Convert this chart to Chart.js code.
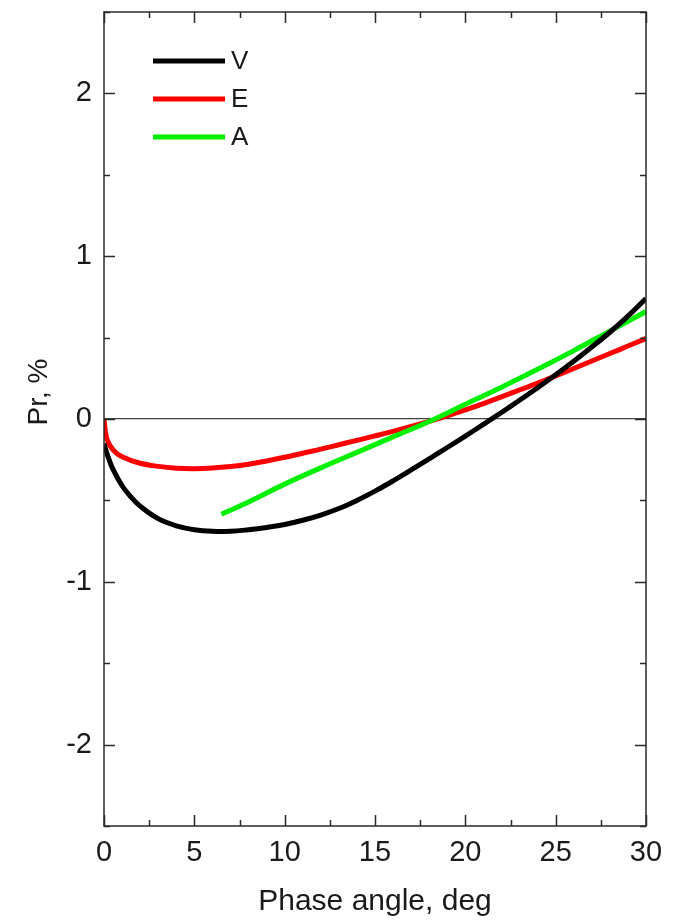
<!DOCTYPE html>
<html>
<head>
<meta charset="utf-8">
<script src="https://cdn.jsdelivr.net/npm/chart.js@4/dist/chart.umd.min.js"></script>
<style>
  html, body { margin: 0; padding: 0; background: #fff; }
  #wrap { width: 674px; height: 922px; }
</style>
</head>
<body>
<div id="wrap"><canvas id="c"></canvas></div>
<script>
// Phase-angle dependence of polarization Pr for three observing bands
const phaseV = [0, 0.1, 0.25, 0.5, 1, 1.5, 2, 3, 4, 5, 6, 7, 8, 9, 10, 11, 12, 13, 14, 15, 16, 17, 18, 19, 20, 21, 22, 23, 24, 25, 26, 27, 28, 29, 30];
const polV   = [-0.15, -0.19, -0.24, -0.31, -0.41, -0.48, -0.535, -0.612, -0.656, -0.68, -0.69, -0.69, -0.68, -0.666, -0.648, -0.622, -0.59, -0.55, -0.5, -0.443, -0.38, -0.313, -0.245, -0.175, -0.105, -0.033, 0.04, 0.115, 0.192, 0.272, 0.355, 0.442, 0.533, 0.632, 0.74];

const phaseE = [0, 0.15, 0.5, 1, 2, 3, 4, 5, 6, 7, 8, 9, 10, 11, 12, 13, 14, 15, 16, 17, 18, 19, 20, 21, 22, 23, 24, 25, 26, 27, 28, 29, 30];
const polE   = [0, -0.12, -0.19, -0.232, -0.272, -0.291, -0.302, -0.305, -0.301, -0.292, -0.278, -0.258, -0.235, -0.21, -0.185, -0.158, -0.131, -0.104, -0.076, -0.046, -0.015, 0.019, 0.056, 0.095, 0.136, 0.178, 0.221, 0.265, 0.31, 0.356, 0.402, 0.448, 0.495];

const phaseA = [6.5, 8, 10, 12, 14, 16, 18, 20, 22, 24, 26, 28, 30];
const polA   = [-0.585, -0.51, -0.40, -0.30, -0.205, -0.11, -0.015, 0.09, 0.195, 0.305, 0.42, 0.54, 0.66];

const seriesNames  = ['V', 'E', 'A'];
const seriesColors = ['#000000', '#ff0000', '#00f000'];

const xTickValues = [0, 5, 10, 15, 20, 25, 30];
const yTickValues = [-2, -1, 0, 1, 2];

const FONT = 'Liberation Sans, Arial, Helvetica, sans-serif';
const TEXT_COLOR = '#1a1a1a';

const toPoints = (xs, ys) => xs.map((x, i) => ({ x: x, y: ys[i] }));

// Frame round the plot area with inward ticks on all four sides
const framePlugin = {
  id: 'frame',
  afterDraw(chart) {
    const { ctx, chartArea: { left, right, top, bottom }, scales: { x, y } } = chart;
    ctx.save();
    ctx.strokeStyle = '#2a2a2a';
    ctx.lineWidth = 1.5;
    ctx.strokeRect(left, top, right - left, bottom - top);
    ctx.beginPath();
    for (let v = x.min; v <= x.max + 1e-9; v += 2.5) {
      const len = (Math.abs(v % 5) < 1e-9) ? 11 : 6;
      const px = Math.round(x.getPixelForValue(v)) + 0.5;
      ctx.moveTo(px, bottom); ctx.lineTo(px, bottom - len);
      ctx.moveTo(px, top);    ctx.lineTo(px, top + len);
    }
    for (let v = y.min; v <= y.max + 1e-9; v += 0.5) {
      const len = (Math.abs(v - Math.round(v)) < 1e-9) ? 11 : 6;
      const py = Math.round(y.getPixelForValue(v)) + 0.5;
      ctx.moveTo(left, py);  ctx.lineTo(left + len, py);
      ctx.moveTo(right, py); ctx.lineTo(right - len, py);
    }
    ctx.stroke();
    ctx.restore();
  }
};

// Legend in the upper-left corner of the plot
const legendPlugin = {
  id: 'cornerLegend',
  afterDraw(chart) {
    const ctx = chart.ctx;
    const rows = [61, 99, 137];
    ctx.save();
    ctx.font = '26px ' + FONT;
    ctx.textBaseline = 'middle';
    ctx.textAlign = 'left';
    seriesNames.forEach((name, i) => {
      ctx.strokeStyle = seriesColors[i];
      ctx.lineWidth = 5;
      ctx.lineCap = 'butt';
      ctx.beginPath();
      ctx.moveTo(153, rows[i]);
      ctx.lineTo(225, rows[i]);
      ctx.stroke();
      ctx.fillStyle = TEXT_COLOR;
      ctx.fillText(name, 231, rows[i] + 1);
    });
    ctx.restore();
  }
};

// Vertical axis title
const yTitlePlugin = {
  id: 'yTitle',
  afterDraw(chart) {
    const ctx = chart.ctx;
    ctx.save();
    ctx.translate(39, 392);
    ctx.rotate(-Math.PI / 2);
    ctx.font = '28px ' + FONT;
    ctx.fillStyle = TEXT_COLOR;
    ctx.textAlign = 'center';
    ctx.textBaseline = 'middle';
    ctx.fillText('Pr, %', 0, 0);
    ctx.restore();
  }
};

const lineStyle = (label, color, pts) => ({
  label: label,
  data: pts,
  borderColor: color,
  backgroundColor: color,
  borderWidth: 5,
  pointRadius: 0,
  fill: false,
  tension: 0.4,
  borderCapStyle: 'butt'
});

new Chart(document.getElementById('c'), {
  type: 'line',
  data: {
    datasets: [
      lineStyle(seriesNames[0], seriesColors[0], toPoints(phaseV, polV)),
      lineStyle(seriesNames[2], seriesColors[2], toPoints(phaseA, polA)),
      lineStyle(seriesNames[1], seriesColors[1], toPoints(phaseE, polE))
    ]
  },
  options: {
    responsive: true,
    maintainAspectRatio: false,
    animation: false,
    devicePixelRatio: 1,
    layout: { padding: { top: 12, right: 28, left: 0, bottom: 0 } },
    plugins: { legend: { display: false }, tooltip: { enabled: false } },
    scales: {
      x: {
        type: 'linear',
        min: 0,
        max: 30,
        afterBuildTicks: s => { s.ticks = xTickValues.map(v => ({ value: v })); },
        afterFit: s => { s.height = 96; s.paddingLeft = 0; s.paddingRight = 0; },
        grid: { display: false, drawTicks: false },
        border: { display: false },
        ticks: { font: { family: FONT, size: 29 }, color: TEXT_COLOR, padding: 10, maxRotation: 0, autoSkip: false },
        title: { display: true, text: 'Phase angle, deg', font: { family: FONT, size: 30 }, color: TEXT_COLOR, padding: { top: 0, bottom: 2 } }
      },
      y: {
        type: 'linear',
        min: -2.5,
        max: 2.5,
        afterBuildTicks: s => { s.ticks = yTickValues.map(v => ({ value: v })); },
        afterFit: s => { s.width = 104; s.paddingTop = 0; s.paddingBottom = 0; },
        grid: {
          drawTicks: false,
          lineWidth: 1.2,
          color: c => (c.tick && c.tick.value === 0) ? '#444' : 'rgba(0,0,0,0)'
        },
        border: { display: false },
        ticks: { font: { family: FONT, size: 29 }, color: TEXT_COLOR, padding: 12 }
      }
    }
  },
  plugins: [framePlugin, legendPlugin, yTitlePlugin]
});
</script>
</body>
</html>
